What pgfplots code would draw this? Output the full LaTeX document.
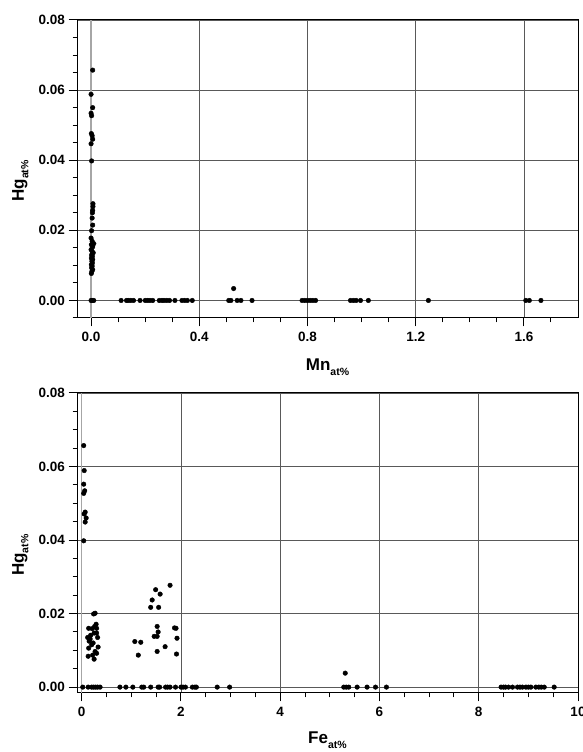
\documentclass[border=0pt]{standalone}
\usepackage{fontspec}
\setmainfont{Liberation Sans}
\usepackage{pgfplots}
\pgfplotsset{compat=1.18}

\newcommand{\sub}[1]{\raisebox{-4.5pt}{\fontsize{10.5}{11}\selectfont\bfseries #1}}

\pgfplotsset{
  hgstyle/.style={
    scale only axis,
    anchor=south west,
    axis line style={black, line width=1pt},
    tick style={black, line width=1pt},
    tick align=outside,
    major tick length=8.5pt,
    minor tick length=4.5pt,
    xtick pos=bottom, ytick pos=left,
    xmajorgrids, ymajorgrids,
    grid style={black!65, line width=0.6pt},
    scaled x ticks=false, scaled y ticks=false,
    /pgf/number format/assume math mode=true,
    tick label style={font=\bfseries\fontsize{13.5}{15}\selectfont},
    xticklabel style={yshift=-2pt},
    label style={font=\bfseries\fontsize{17}{19}\selectfont, inner sep=0pt},
    yticklabel style={/pgf/number format/.cd, fixed, fixed zerofill, precision=2},
    ymax=0.08,
    ytick={0,0.02,0.04,0.06,0.08},
    minor ytick={-0.005,0.005,0.01,0.015,0.025,0.03,0.035,0.045,0.05,0.055,0.065,0.07,0.075},
    extra x ticks={0},
    extra x tick style={grid style={black!35, line width=1.4pt}},
    ylabel={Hg\sub{at\%}},
    ylabel style={at={([xshift=-65pt]axis description cs:0,0.46)}, anchor=north},
    xlabel style={anchor=north},
  },
  dots/.style={black, only marks, mark=*, mark size=2.3pt, mark options={fill=black, draw=black}},
}

\begin{document}
\begin{tikzpicture}
\useasboundingbox (0,0) rectangle (582pt,752pt);

% Mn
\begin{axis}[hgstyle,
  at={(77pt,434pt)}, width=501pt, height=298pt,
  xmin=-0.052, xmax=1.8, ymin=-0.005,
  xtick={0.4,0.8,1.2,1.6},
  minor xtick={0.1,0.2,0.3,0.5,0.6,0.7,0.9,1.0,1.1,1.3,1.4,1.5,1.7},
  xticklabel style={/pgf/number format/.cd, fixed, fixed zerofill, precision=1},
  xlabel={Mn\sub{at\%}},
  xlabel style={at={([yshift=-41pt]axis description cs:0.5,0)}},
]
\addplot[dots] coordinates {
(0.006,0.0657) (0.000,0.0588) (0.006,0.0550) (0.000,0.0534) (0.002,0.0527)
(0.001,0.0476) (0.004,0.0470) (0.006,0.0460) (0.000,0.0447) (0.002,0.0398)
(0.007,0.0276) (0.007,0.0268) (0.006,0.0257) (0.005,0.0250) (0.004,0.0235)
(0.006,0.0215) (0.002,0.0199) (0.000,0.0178) (0.004,0.0169) (0.010,0.0162)
(0.001,0.0159) (0.006,0.0153) (0.000,0.0145) (0.004,0.0140) (0.008,0.0136)
(0.002,0.0130) (0.005,0.0126) (0.001,0.0121) (0.006,0.0117) (0.003,0.0112)
(0.005,0.0107) (0.001,0.0102) (0.004,0.0098) (0.002,0.0093) (0.006,0.0088)
(0.003,0.0083) (0.001,0.0077)
(0.000,0) (0.004,0) (0.010,0) (0.111,0) (0.131,0) (0.138,0) (0.147,0) (0.157,0)
(0.181,0) (0.200,0) (0.209,0) (0.218,0) (0.228,0) (0.252,0) (0.262,0) (0.270,0)
(0.280,0) (0.290,0) (0.310,0) (0.336,0) (0.346,0) (0.356,0) (0.374,0) (0.509,0)
(0.517,0) (0.527,0.0034) (0.540,0) (0.554,0) (0.595,0) (0.780,0) (0.790,0)
(0.800,0) (0.810,0) (0.820,0) (0.830,0) (0.959,0) (0.970,0) (0.980,0) (0.996,0)
(1.025,0) (1.247,0) (1.607,0) (1.620,0) (1.663,0)
};
\end{axis}

% Fe
\begin{axis}[hgstyle,
  at={(77pt,59pt)}, width=501pt, height=300pt,
  xmin=-0.095, xmax=10, ymin=-0.0016,
  xtick={2,4,6,8,10},
  minor xtick={0.5,1,1.5,2.5,3,3.5,4.5,5,5.5,6.5,7,7.5,8.5,9,9.5},
  xlabel={Fe\sub{at\%}},
  xlabel style={at={([yshift=-39pt]axis description cs:0.5,0)}},
]
\addplot[dots] coordinates {
(0.04,0.0657) (0.05,0.0589) (0.04,0.0552) (0.06,0.0534) (0.04,0.0527)
(0.07,0.0476) (0.05,0.0471) (0.09,0.0460) (0.07,0.0449) (0.04,0.0398)
(0.24,0.0199) (0.27,0.0201) (0.14,0.0160) (0.21,0.0159) (0.29,0.0171)
(0.30,0.0160) (0.12,0.0135) (0.17,0.0131) (0.25,0.0147) (0.32,0.0135)
(0.14,0.0106) (0.20,0.0115) (0.27,0.0097) (0.30,0.0092) (0.13,0.0084)
(0.25,0.0076) (0.23,0.0120) (0.18,0.0141) (0.33,0.0109) (0.30,0.0147)
(0.22,0.0087) (0.26,0.0165) (0.15,0.0125)
(1.07,0.0124) (1.19,0.0122) (1.14,0.0087) (1.39,0.0217) (1.42,0.0237)
(1.49,0.0265) (1.58,0.0253) (1.55,0.0217) (1.78,0.0277) (1.52,0.0165)
(1.46,0.0138) (1.52,0.0138) (1.54,0.0150) (1.52,0.0097) (1.68,0.0110)
(1.87,0.0161) (1.90,0.0160) (1.92,0.0133) (1.91,0.0090)
(5.31,0.0038)
(0.02,0) (0.13,0) (0.20,0) (0.24,0) (0.28,0) (0.32,0) (0.37,0) (0.77,0)
(0.89,0) (1.03,0) (1.21,0) (1.25,0) (1.39,0) (1.54,0) (1.57,0) (1.69,0)
(1.73,0) (1.78,0) (1.89,0) (2.00,0) (2.04,0) (2.09,0) (2.23,0) (2.28,0)
(2.31,0) (2.73,0) (2.98,0)
(5.28,0) (5.33,0) (5.38,0) (5.55,0) (5.75,0) (5.92,0) (6.14,0)
(8.45,0) (8.50,0) (8.54,0) (8.60,0) (8.68,0) (8.78,0) (8.83,0) (8.88,0)
(8.95,0) (9.00,0) (9.05,0) (9.15,0) (9.21,0) (9.26,0) (9.32,0) (9.52,0)
};
\end{axis}
\end{tikzpicture}
\end{document}
